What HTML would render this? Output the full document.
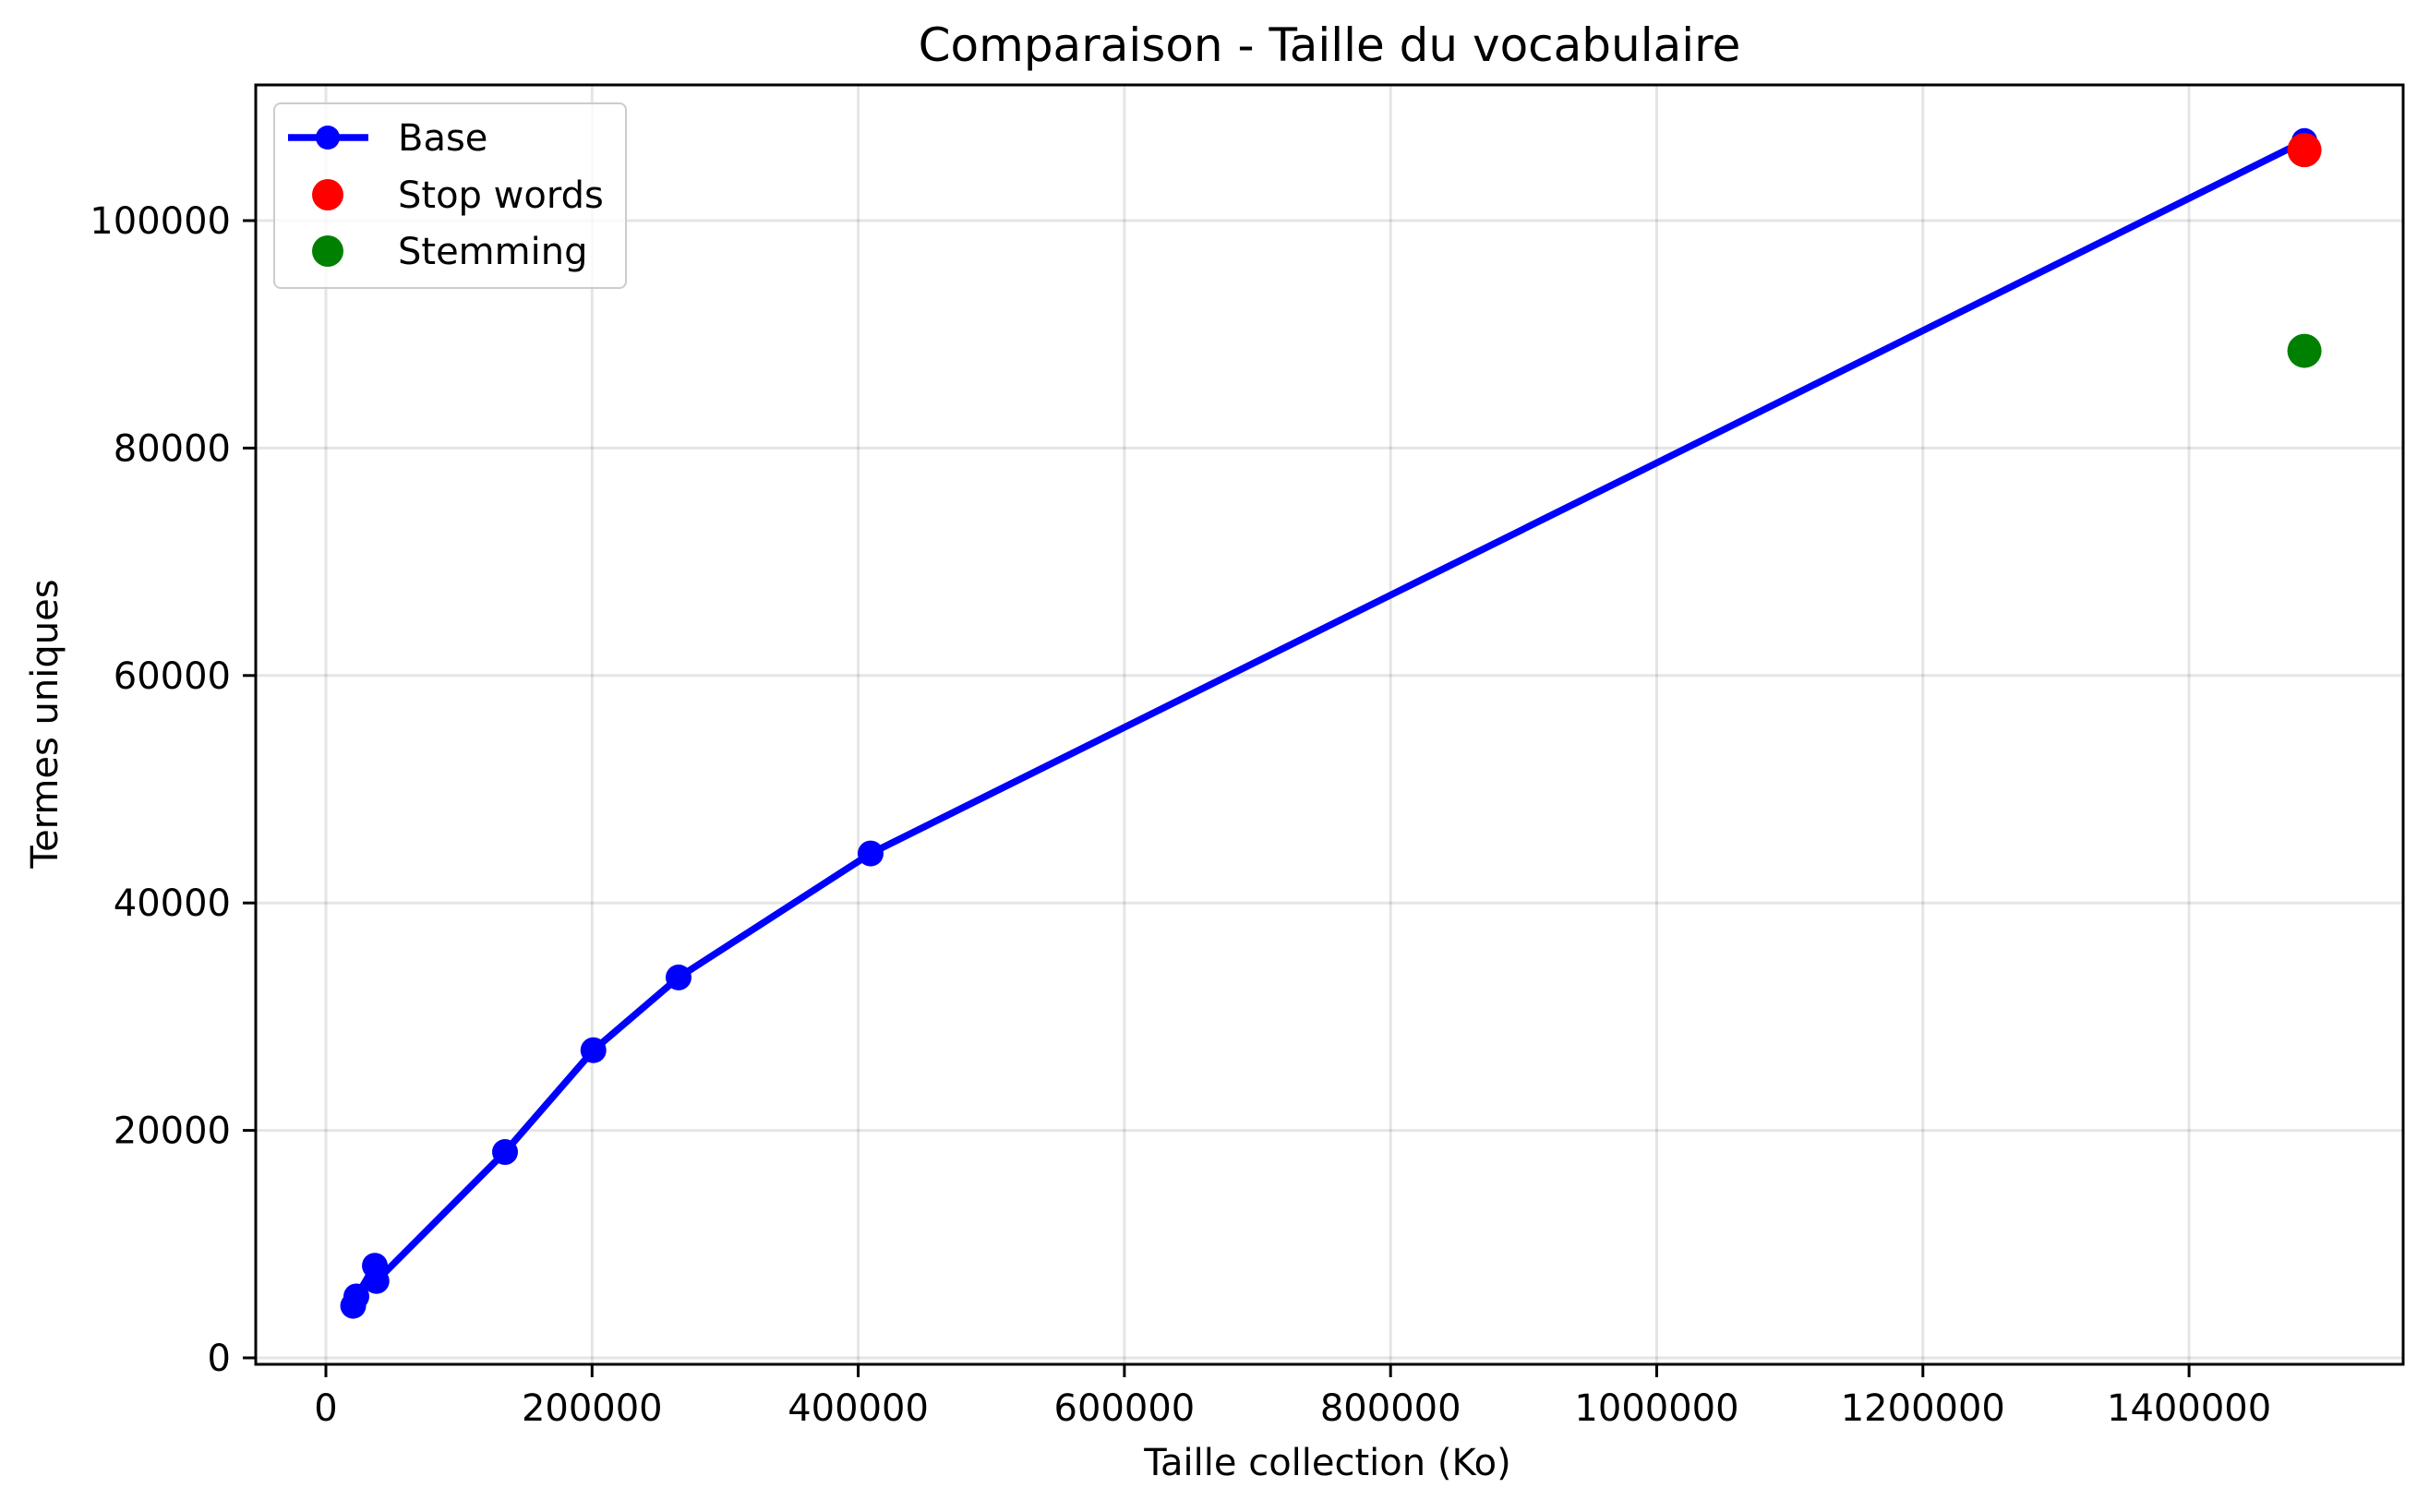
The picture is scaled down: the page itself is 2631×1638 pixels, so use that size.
<!DOCTYPE html>
<html><head><meta charset="utf-8"><style>
body{margin:0;background:#fff}
svg{display:block;font-family:"DejaVu Sans","Liberation Sans",sans-serif}
</style></head><body>
<svg id="chart" width="2631" height="1638" viewBox="0 0 2631 1638">
<rect width="2631" height="1638" fill="#fff"/>
<g id="grid"></g>
<g id="series"></g>
<rect x="277" y="92" width="2326" height="1386" fill="none" stroke="#000" stroke-width="3"/>
<g id="ticks"></g>
<text x="1440" y="66" font-size="50" text-anchor="middle">Comparaison - Taille du vocabulaire</text>
<text x="1438" y="1598" font-size="40" text-anchor="middle">Taille collection (Ko)</text>
<text x="0" y="0" font-size="40" text-anchor="middle" transform="translate(62,784) rotate(-90)">Termes uniques</text>
<g>
<rect x="297" y="112" width="381" height="200" rx="7" fill="#fff" fill-opacity="0.8" stroke="#ccc" stroke-width="2"/>
<g><line x1="312" y1="149" x2="399" y2="149" stroke="#0000ff" stroke-width="7.5"/><circle cx="355" cy="149" r="13" fill="#0000ff"/><text x="431" y="163" font-size="40">Base</text></g>
<g><circle cx="355" cy="211" r="17" fill="#ff0000"/><text x="431" y="225" font-size="40">Stop words</text></g>
<g><circle cx="355" cy="272" r="17" fill="#008000"/><text x="431" y="286" font-size="40">Stemming</text></g>
</g>
</svg>
<script>
const baseX = [20500, 22900, 36800, 38000, 134600, 201000, 265000, 409300, 1486700];
const baseY = [4580, 5400, 8100, 6760, 18100, 27050, 33450, 44350, 107000];
const stopX = [1486700];
const stopY = [106200];
const stemX = [1486700];
const stemY = [88550];
const xTicks = [0, 200000, 400000, 600000, 800000, 1000000, 1200000, 1400000];
const yTicks = [0, 20000, 40000, 60000, 80000, 100000];

const NS = "http://www.w3.org/2000/svg";
const sx = v => 353 + v / 200000 * 288.3;
const sy = v => 1471 - v / 100000 * 1232;
function mk(tag, attrs, parent) {
  const e = document.createElementNS(NS, tag);
  for (const k in attrs) e.setAttribute(k, attrs[k]);
  parent.appendChild(e);
  return e;
}
const grid = document.getElementById('grid');
const ticks = document.getElementById('ticks');
const series = document.getElementById('series');
xTicks.forEach(t => {
  const g = mk('line', {x1: sx(t), x2: sx(t), y1: 92, y2: 1478, stroke: '#000', 'stroke-opacity': 0.1, 'stroke-width': 3}, grid);
  
  
  mk('line', {x1: sx(t), x2: sx(t), y1: 1478, y2: 1492, stroke: '#000', 'stroke-width': 3}, ticks);
  const tx = mk('text', {x: sx(t), y: 1539, 'font-size': 40, 'text-anchor': 'middle'}, ticks);
  tx.textContent = t;
  
  
});
yTicks.forEach(t => {
  const g = mk('line', {x1: 277, x2: 2603, y1: sy(t), y2: sy(t), stroke: '#000', 'stroke-opacity': 0.1, 'stroke-width': 3}, grid);
  
  
  mk('line', {x1: 263, x2: 277, y1: sy(t), y2: sy(t), stroke: '#000', 'stroke-width': 3}, ticks);
  const tx = mk('text', {x: 250, y: sy(t) + 14, 'font-size': 40, 'text-anchor': 'end'}, ticks);
  tx.textContent = t;
  
  
});
const pts = baseX.map((x, i) => sx(x) + ',' + sy(baseY[i])).join(' ');
const line = mk('polyline', {points: pts, fill: 'none', stroke: '#0000ff', 'stroke-width': 7.5, 'stroke-linejoin': 'round'}, series);


baseX.forEach((x, i) => {
  const c = mk('circle', {cx: sx(x), cy: sy(baseY[i]), r: 14, fill: '#0000ff'}, series);
  
  
});
stopX.forEach((x, i) => {
  const c = mk('circle', {cx: sx(x), cy: sy(stopY[i]), r: 18.5, fill: '#ff0000'}, series);
  
  
});
stemX.forEach((x, i) => {
  const c = mk('circle', {cx: sx(x), cy: sy(stemY[i]), r: 18.5, fill: '#008000'}, series);
  
  
});
</script>
</body></html>
